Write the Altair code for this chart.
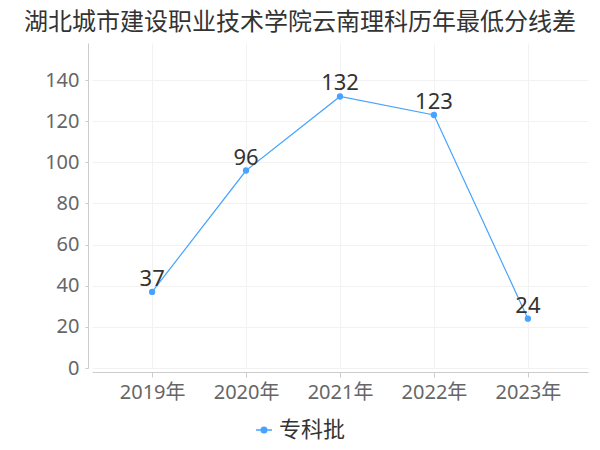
import altair as alt
import pandas as pd

years = ["2019年", "2020年", "2021年", "2022年", "2023年"]
values = [37, 96, 132, 123, 24]
series = ["专科批"] * 5

df = pd.DataFrame({"year": years, "value": values, "series": series})

FONT = "Noto Sans, Noto Sans CJK SC, sans-serif"
BLUE = "#47a3ff"

x = alt.X("year:N", sort=years, title=None,
          scale=alt.Scale(type="point", padding=0.64),
          axis=alt.Axis(labelAngle=0, labelFontSize=20, labelColor="#666666",
                        labelFont=FONT, domainColor="#cccccc", tickColor="#cccccc",
                        tickSize=5, offset=4, labelPadding=5,
                        grid=True, gridColor="#f2f2f2"))
y = alt.Y("value:Q", title=None,
          scale=alt.Scale(domain=[0, 158], nice=False),
          axis=alt.Axis(values=[0, 20, 40, 60, 80, 100, 120, 140], labelFontSize=20,
                        labelColor="#666666", labelFont=FONT, domainColor="#cccccc",
                        tickColor="#cccccc", tickSize=3, offset=4, labelPadding=6,
                        grid=True, gridColor="#f2f2f2"))

color = alt.Color("series:N", title=None,
                  scale=alt.Scale(domain=["专科批"], range=[BLUE]),
                  legend=alt.Legend(orient="none", legendX=161, legendY=376,
                                    labelFontSize=22, labelColor="#333333", labelFont="Noto Sans CJK SC",
                                    symbolType="M-1,0L1,0M0.35,0A0.35,0.35 0 1,1 -0.35,0A0.35,0.35 0 1,1 0.35,0",
                                    symbolSize=256, symbolStrokeWidth=1.5, symbolFillColor=BLUE,
                                    labelOffset=4))

base = alt.Chart(df).encode(x=x, y=y)
line = base.mark_line(strokeWidth=1.2).encode(color=color)
pts = base.mark_point(filled=True, size=40, opacity=1).encode(color=color)
labels = base.mark_text(dy=-13, fontSize=22, color="#333333", font=FONT).encode(text="value:Q")

chart = (line + pts + labels).properties(
    width=496, height=325,
    autosize=alt.AutoSizeParams(type="none"),
    padding={"left": 84, "top": 35, "right": 4, "bottom": 74},
    title=alt.TitleParams("湖北城市建设职业技术学院云南理科历年最低分线差",
                          fontSize=24, fontWeight="normal", color="#333333",
                          font="Noto Sans CJK SC", anchor="middle", dx=-40, offset=8),
).configure_view(stroke=None)

chart.save("out.html", embed_options={"renderer": "svg", "actions": False})
